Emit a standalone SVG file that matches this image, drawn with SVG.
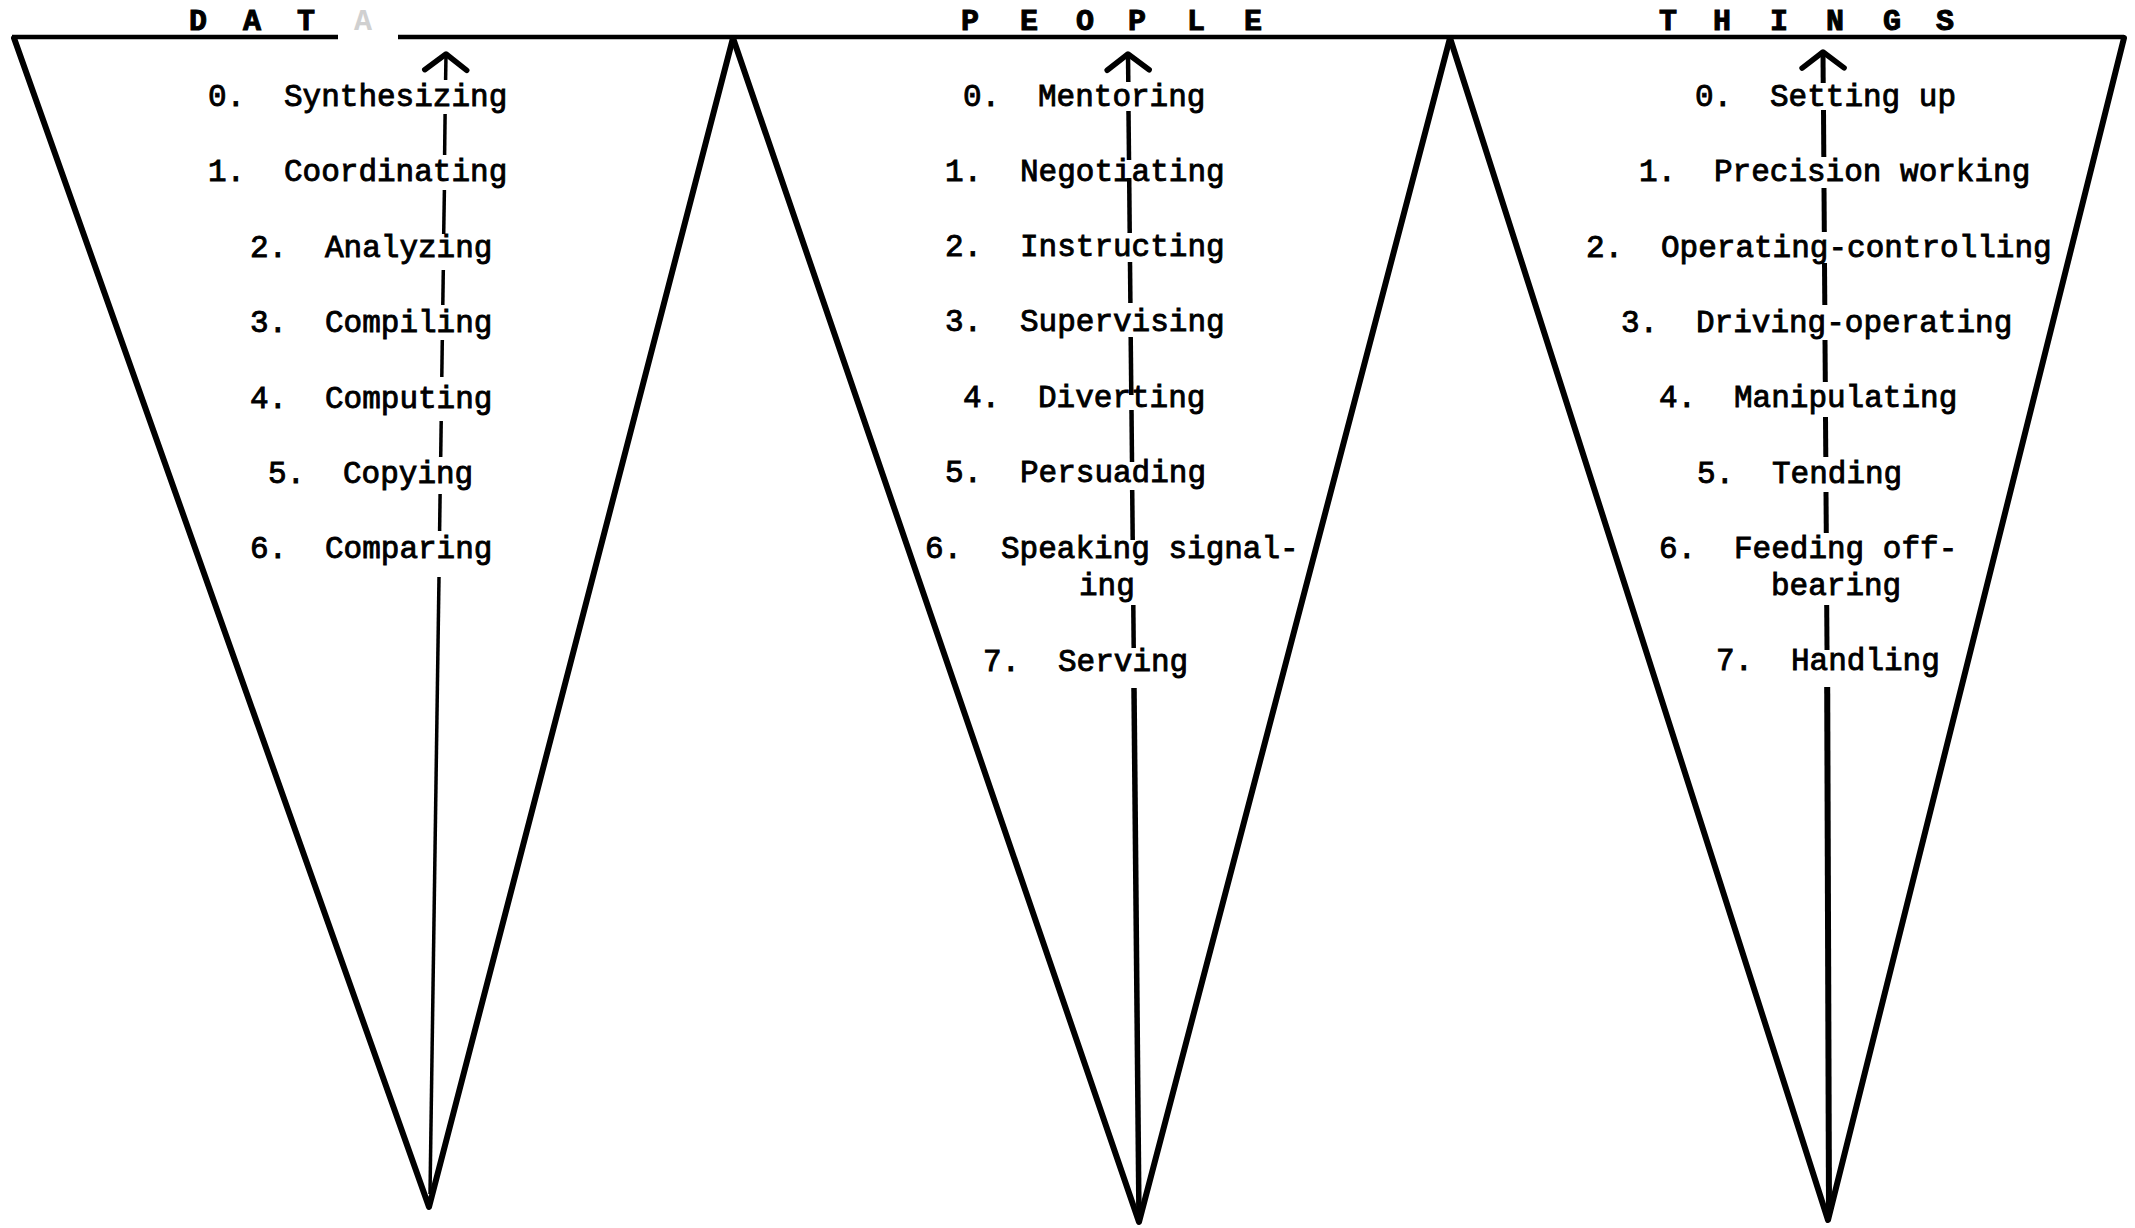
<svg xmlns="http://www.w3.org/2000/svg" width="2135" height="1228" viewBox="0 0 2135 1228">
<style>
  .edge { stroke:#000; stroke-width:6; fill:none; stroke-linecap:round; stroke-linejoin:round; }
  .top { stroke:#000; stroke-width:4.5; fill:none; }
  .hdr { font-family:"Liberation Mono","Courier New",monospace; font-size:30px; font-weight:bold; fill:#000; stroke:#000; stroke-width:1; }
  .lbl { font-family:"Liberation Mono","Courier New",monospace; font-size:31px; fill:#000; stroke:#000; stroke-width:0.9; }
  .shaft { stroke:#000; fill:none; stroke-linecap:butt; }
</style>
<defs>
  <marker id="chev" markerUnits="userSpaceOnUse" viewBox="-30 -30 60 60" markerWidth="60" markerHeight="60" refX="0" refY="0" orient="auto" overflow="visible">
    <path d="M-16,-21 L0,0 L-16,21" fill="none" stroke="#000" stroke-width="5.5" stroke-linecap="round" stroke-linejoin="round"/>
  </marker>
</defs>
<rect width="2135" height="1228" fill="#fff"/>

<g id="top-line">
  <line class="top" x1="12" y1="37" x2="338" y2="37"/>
  <line class="top" x1="398" y1="37" x2="2124" y2="37"/>
</g>

<g id="data">
  <polyline class="edge" points="14,38 429,1207 733,38"/>
  <text class="hdr" y="30"><tspan x="189">D</tspan><tspan x="243">A</tspan><tspan x="297">T</tspan><tspan x="354" fill="#d0d0d0" stroke="none">A</tspan></text>
</g>
<g id="data-labels">
  <text class="lbl" y="106"><tspan x="208">0.</tspan><tspan x="284">Synthesizing</tspan></text>
  <text class="lbl" y="181"><tspan x="208">1.</tspan><tspan x="284">Coordinating</tspan></text>
  <text class="lbl" y="257"><tspan x="250">2.</tspan><tspan x="325">Analyzing</tspan></text>
  <text class="lbl" y="332"><tspan x="250">3.</tspan><tspan x="325">Compiling</tspan></text>
  <text class="lbl" y="408"><tspan x="250">4.</tspan><tspan x="325">Computing</tspan></text>
  <text class="lbl" y="483"><tspan x="268">5.</tspan><tspan x="343">Copying</tspan></text>
  <text class="lbl" y="558"><tspan x="250">6.</tspan><tspan x="325">Comparing</tspan></text>
</g>

<g id="people">
  <polyline class="edge" points="733,38 1139,1222 1450,38"/>
  <text class="hdr" y="30"><tspan x="961">P</tspan><tspan x="1020">E</tspan><tspan x="1076">O</tspan><tspan x="1128">P</tspan><tspan x="1187">L</tspan><tspan x="1244">E</tspan></text>
</g>
<g id="people-labels">
  <text class="lbl" y="106"><tspan x="963">0.</tspan><tspan x="1038">Mentoring</tspan></text>
  <text class="lbl" y="181"><tspan x="945">1.</tspan><tspan x="1020">Negotiating</tspan></text>
  <text class="lbl" y="256"><tspan x="945">2.</tspan><tspan x="1020">Instructing</tspan></text>
  <text class="lbl" y="331"><tspan x="945">3.</tspan><tspan x="1020">Supervising</tspan></text>
  <text class="lbl" y="407"><tspan x="963">4.</tspan><tspan x="1038">Diverting</tspan></text>
  <text class="lbl" y="482"><tspan x="945">5.</tspan><tspan x="1020">Persuading</tspan></text>
  <text class="lbl" y="558"><tspan x="925">6.</tspan><tspan x="1001">Speaking signal-</tspan></text>
  <text class="lbl" x="1079" y="595">ing</text>
  <text class="lbl" y="671"><tspan x="983">7.</tspan><tspan x="1058">Serving</tspan></text>
</g>

<g id="things">
  <polyline class="edge" points="1450,38 1828,1220 2124,38"/>
  <text class="hdr" y="30"><tspan x="1659">T</tspan><tspan x="1713">H</tspan><tspan x="1770">I</tspan><tspan x="1826">N</tspan><tspan x="1883">G</tspan><tspan x="1936">S</tspan></text>
</g>
<g id="things-labels">
  <text class="lbl" y="106"><tspan x="1695">0.</tspan><tspan x="1770">Setting up</tspan></text>
  <text class="lbl" y="181"><tspan x="1639">1.</tspan><tspan x="1714">Precision working</tspan></text>
  <text class="lbl" y="257"><tspan x="1586">2.</tspan><tspan x="1661">Operating-controlling</tspan></text>
  <text class="lbl" y="332"><tspan x="1621">3.</tspan><tspan x="1696">Driving-operating</tspan></text>
  <text class="lbl" y="407"><tspan x="1659">4.</tspan><tspan x="1734">Manipulating</tspan></text>
  <text class="lbl" y="483"><tspan x="1697">5.</tspan><tspan x="1772">Tending</tspan></text>
  <text class="lbl" y="558"><tspan x="1659">6.</tspan><tspan x="1734">Feeding off-</tspan></text>
  <text class="lbl" x="1771" y="595">bearing</text>
  <text class="lbl" y="670"><tspan x="1716">7.</tspan><tspan x="1791">Handling</tspan></text>
</g>

<g id="connectors">
  <!-- DATA scale arrow -->
  <g stroke-width="3.5" class="shaft">
    <line x1="445.6" y1="80" x2="446" y2="54" marker-end="url(#chev)"/>
    <line x1="445.1" y1="114" x2="444.6" y2="155"/>
    <line x1="444.4" y1="190" x2="443.7" y2="234"/>
    <line x1="443.3" y1="270" x2="442.8" y2="305"/>
    <line x1="442.3" y1="340" x2="441.8" y2="377"/>
    <line x1="441.2" y1="421" x2="440.7" y2="457"/>
    <line x1="440.1" y1="494" x2="439.6" y2="531"/>
    <line x1="439.0" y1="577" x2="430" y2="1194"/>
  </g>
  <!-- PEOPLE scale arrow -->
  <g stroke-width="4.5" class="shaft">
    <line x1="1128.3" y1="82" x2="1128" y2="54" marker-end="url(#chev)"/>
    <line x1="1128.5" y1="111" x2="1129" y2="160"/>
    <line x1="1129.2" y1="178" x2="1129.7" y2="233"/>
    <line x1="1130" y1="262" x2="1130.4" y2="303"/>
    <line x1="1130.7" y1="337" x2="1131.3" y2="395"/>
    <line x1="1131.5" y1="410" x2="1132" y2="462"/>
    <line x1="1132.2" y1="490" x2="1132.7" y2="540"/>
    <line x1="1133.3" y1="605" x2="1133.7" y2="648"/>
    <line x1="1134" y1="688" x2="1139" y2="1220" stroke-width="5.5"/>
  </g>
  <!-- THINGS scale arrow -->
  <g stroke-width="5" class="shaft">
    <line x1="1823.2" y1="83" x2="1823" y2="52" marker-end="url(#chev)"/>
    <line x1="1823.5" y1="110" x2="1823.8" y2="157"/>
    <line x1="1824" y1="188" x2="1824.3" y2="232"/>
    <line x1="1824.5" y1="263" x2="1824.8" y2="305"/>
    <line x1="1825" y1="340" x2="1825.3" y2="382"/>
    <line x1="1825.5" y1="417" x2="1825.8" y2="457"/>
    <line x1="1826" y1="492" x2="1826.3" y2="533"/>
    <line x1="1826.7" y1="605" x2="1827" y2="650"/>
    <line x1="1827.2" y1="687" x2="1829" y2="1212" stroke-width="6"/>
  </g>
</g>
</svg>
